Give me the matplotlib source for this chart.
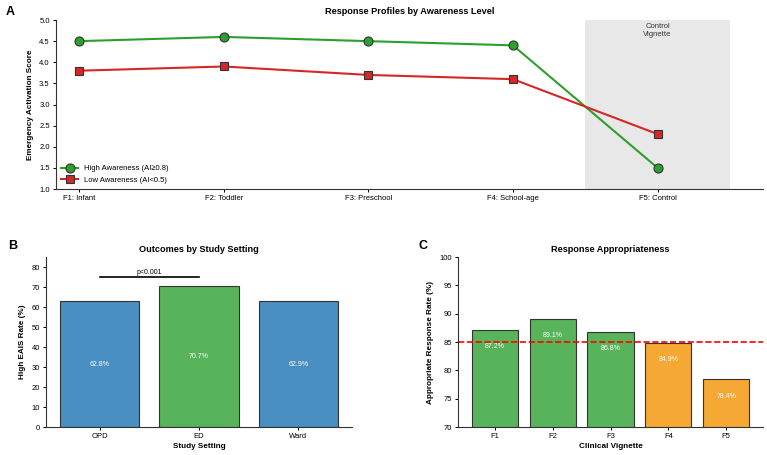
import numpy as np
import matplotlib.pyplot as plt

plt.rcParams['font.family'] = ['Liberation Sans', 'DejaVu Sans']

# panel A
vignettes = ["F1: Infant", "F2: Toddler", "F3: Preschool", "F4: School-age", "F5: Control"]
high_aw = [4.5, 4.6, 4.5, 4.4, 1.5]
low_aw = [3.8, 3.9, 3.7, 3.6, 2.3]

# panel B
settings = ["OPD", "ED", "Ward"]
eais_rate = [62.8, 70.7, 62.9]

# panel C
short_vig = ["F1", "F2", "F3", "F4", "F5"]
appropriate = [87.2, 89.1, 86.8, 84.9, 78.4]
threshold = 85

green = "#2ca02c"
red = "#d62728"
edge = "#333333"

fig = plt.figure(figsize=(7.67, 4.55), dpi=100)
axA = fig.add_axes([0.073, 0.5846, 0.922, 0.3714])
axB = fig.add_axes([0.060, 0.0615, 0.399, 0.3735])
axC = fig.add_axes([0.597, 0.0615, 0.398, 0.3735])

tick_fs = 5.5
lab_fs = 5.9
title_fs = 6.6

# ---- A ----
x = np.arange(len(vignettes))
axA.axvspan(3.5, 4.5, color="#e8e8e8", zorder=0, lw=0)
axA.plot(x, high_aw, "-o", color=green, lw=1.5, ms=6.5, mec=edge, mew=0.8,
         label="High Awareness (AI\u22650.8)", zorder=3)
axA.plot(x, low_aw, "-s", color=red, lw=1.5, ms=6, mec=edge, mew=0.8,
         label="Low Awareness (AI<0.5)", zorder=3)
axA.text(4, 4.92, "Control\nVignette", ha="center", va="top", fontsize=5.5, color="#333333")
axA.set_xticks(x)
axA.set_xticklabels(vignettes)
axA.set_xlim(-0.16, 4.73)
axA.set_ylim(1.0, 5.0)
axA.set_yticks(np.arange(1.0, 5.01, 0.5))
axA.set_ylabel("Emergency Activation Score", fontsize=lab_fs, fontweight="bold")
axA.set_title("Response Profiles by Awareness Level", fontsize=title_fs, fontweight="bold", pad=4)
axA.legend(loc="lower left", frameon=False, fontsize=5.5, handlelength=2.2,
           borderaxespad=0.3, labelspacing=0.5)

# ---- B ----
xb = np.arange(len(settings))
colsB = ["#4a8fc2", "#57b45a", "#4a8fc2"]
axB.bar(xb, eais_rate, width=0.8, color=colsB, edgecolor=edge, linewidth=0.8)
for i, v in enumerate(eais_rate):
    axB.text(i, v / 2, f"{v}%", ha="center", va="center", color="white", fontsize=5)
axB.plot([0, 1], [75, 75], color="black", lw=1.2)
axB.text(0.5, 75.3, "p<0.001", ha="center", va="bottom", fontsize=5)
axB.set_xticks(xb)
axB.set_xticklabels(settings)
axB.set_ylim(0, 85)
axB.set_yticks(np.arange(0, 81, 10))
axB.set_ylabel("High EAIS Rate (%)", fontsize=lab_fs, fontweight="bold")
axB.set_xlabel("Study Setting", fontsize=lab_fs, fontweight="bold", labelpad=2)
axB.set_title("Outcomes by Study Setting", fontsize=title_fs, fontweight="bold", pad=4)

# ---- C ----
xc = np.arange(len(short_vig))
colsC = ["#f5a833" if v < threshold else "#57b45a" for v in appropriate]
axC.bar(xc, appropriate, width=0.8, color=colsC, edgecolor=edge, linewidth=0.8)
for i, v in enumerate(appropriate):
    axC.text(i, v - 3, f"{v}%", ha="center", va="center", color="white", fontsize=5)
axC.axhline(threshold, color="red", ls="--", lw=1.2)
axC.set_xticks(xc)
axC.set_xticklabels(short_vig)
axC.set_ylim(70, 100)
axC.set_yticks(np.arange(70, 101, 5))
axC.set_ylabel("Appropriate Response Rate (%)", fontsize=lab_fs, fontweight="bold")
axC.set_xlabel("Clinical Vignette", fontsize=lab_fs, fontweight="bold", labelpad=2)
axC.set_title("Response Appropriateness", fontsize=title_fs, fontweight="bold", pad=4)

for ax in (axA, axB, axC):
    ax.spines["top"].set_visible(False)
    ax.spines["right"].set_visible(False)
    ax.spines["left"].set_color("#333333")
    ax.spines["bottom"].set_color("#333333")
    ax.tick_params(labelsize=tick_fs, length=2.5, width=0.7, pad=2)

fig.text(0.008, 0.968, "A", fontsize=9, fontweight="bold")
fig.text(0.010, 0.452, "B", fontsize=9, fontweight="bold")
fig.text(0.545, 0.452, "C", fontsize=9, fontweight="bold")

fig.savefig("out.png", dpi=100)
